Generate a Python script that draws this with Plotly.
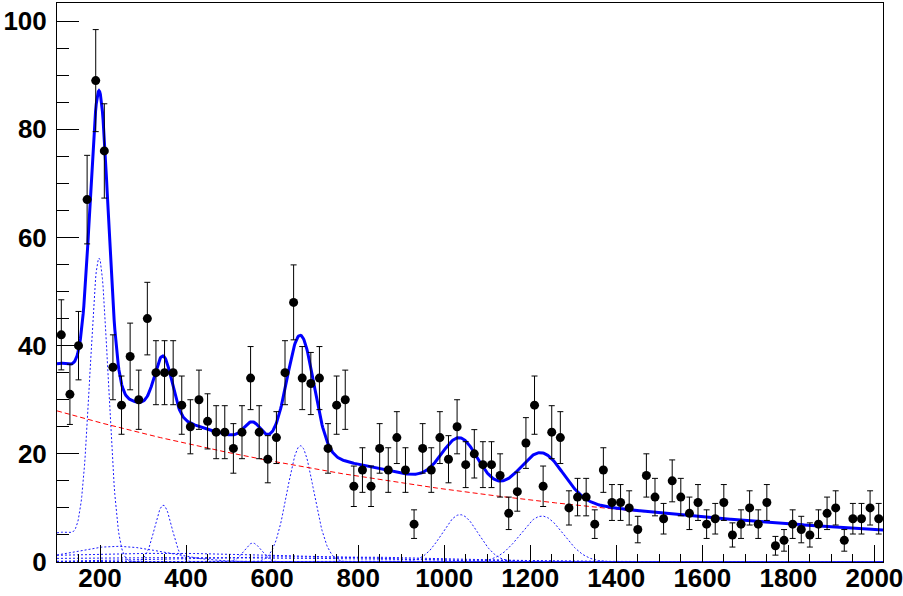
import numpy as np
import plotly.graph_objects as go

# ---------------- data (histogram, 20-unit bins) ----------------
bin_centers = [110, 130, 150, 170, 190, 210, 230, 250, 270, 290,
               310, 330, 350, 370, 390, 410, 430, 450, 470, 490,
               510, 530, 550, 570, 590, 610, 630, 650, 670, 690,
               710, 730, 750, 770, 790, 810, 830, 850, 870, 890,
               910, 930, 950, 970, 990, 1010, 1030, 1050, 1070, 1090,
               1110, 1130, 1150, 1170, 1190, 1210, 1230, 1250, 1270, 1290,
               1310, 1330, 1350, 1370, 1390, 1410, 1430, 1450, 1470, 1490,
               1510, 1530, 1550, 1570, 1590, 1610, 1630, 1650, 1670, 1690,
               1710, 1730, 1750, 1770, 1790, 1810, 1830, 1850, 1870, 1890,
               1910, 1930, 1950, 1970, 1990, 2010]
counts = [42, 31, 40, 67, 89, 76, 36, 29, 38, 30,
          45, 35, 35, 35, 29, 25, 30, 26, 24, 24,
          21, 24, 34, 24, 19, 23, 35, 48, 34, 33,
          34, 21, 29, 30, 14, 17, 14, 21, 17, 23,
          17, 7, 21, 17, 23, 19, 25, 18, 20, 18,
          18, 16, 9, 13, 22, 29, 14, 24, 23, 10,
          12, 12, 7, 17, 11, 11, 10, 6, 16, 12,
          8, 15, 12, 9, 11, 7, 8, 11, 5, 7,
          10, 7, 11, 3, 4, 7, 6, 5, 7, 9,
          10, 4, 8, 8, 10, 8]

# ---------------- fit parameters ----------------
bkg_norm = 30.3
bkg_slope = -0.00081

peak_mean = [198, 347, 555, 666, 1037, 1227]
peak_sigma = [21, 20, 20, 31, 42, 50]
peak_amp = [55.0, 10.5, 3.5, 21.5, 8.75, 8.5]

# low-side shoulder belonging to the first peak's component
tail_mean = 110
tail_sigma = 50
tail_amp = 5.5

broad_mean = [240, 350, 700, 400]
broad_sigma = [110, 350, 300, 500]
broad_amp = [2.9, 1.6, 1.0, 0.8]

x_min, x_max = 100, 2020
y_max = 103.35

# ---------------- evaluate fit curves ----------------
xf = np.linspace(x_min, x_max, 1201)


def gauss(x, a, m, s):
    return a * np.exp(-0.5 * ((x - m) / s) ** 2)


bkg = bkg_norm * np.exp(bkg_slope * xf)
components = []
for i, (a, m, s) in enumerate(zip(peak_amp, peak_mean, peak_sigma)):
    c = gauss(xf, a, m, s)
    if i == 0:
        c = c + gauss(xf, tail_amp, tail_mean, tail_sigma)
    components.append(c)
for a, m, s in zip(broad_amp, broad_mean, broad_sigma):
    components.append(gauss(xf, a, m, s))
total = bkg + np.sum(components, axis=0)

errors = [float(np.sqrt(c)) for c in counts]

fig = go.Figure()

for c in components:
    fig.add_trace(go.Scatter(x=xf, y=c, mode="lines",
                             line=dict(color="#1a1aff", width=1, dash="2px,2px"),
                             hoverinfo="skip", cliponaxis=False))

fig.add_trace(go.Scatter(x=xf, y=bkg, mode="lines",
                         line=dict(color="#ff0000", width=1, dash="5px,3px"),
                         hoverinfo="skip"))

fig.add_trace(go.Scatter(x=xf, y=total, mode="lines",
                         line=dict(color="#0000ff", width=3),
                         hoverinfo="skip"))

fig.add_trace(go.Scatter(x=bin_centers, y=counts, mode="markers",
                         marker=dict(color="black", size=9, symbol="circle"),
                         error_y=dict(type="data", array=errors, visible=True,
                                      color="black", thickness=1, width=3)))

tickfont = dict(family="Liberation Sans, Arial, sans-serif", size=26,
                color="black", weight="bold")

fig.update_layout(
    width=903, height=596,
    margin=dict(l=57, r=20, t=3, b=34, autoexpand=False),
    paper_bgcolor="white", plot_bgcolor="white",
    showlegend=False,
    xaxis=dict(range=[x_min, x_max], tick0=0, dtick=200,
               ticks="inside", ticklen=17, tickwidth=1, tickcolor="black",
               minor=dict(dtick=50, ticks="inside", ticklen=8,
                          tickwidth=1, tickcolor="black"),
               showline=True, linecolor="black", linewidth=1, mirror=True,
               showgrid=False, zeroline=False, tickfont=tickfont,
               automargin=False, ticklabelstandoff=-7,
               ticklabeloverflow="allow"),
    yaxis=dict(range=[0, y_max], tick0=0, dtick=20,
               ticks="inside", ticklen=22, tickwidth=1, tickcolor="black",
               minor=dict(dtick=5, ticks="inside", ticklen=12,
                          tickwidth=1, tickcolor="black"),
               showline=True, linecolor="black", linewidth=1, mirror=True,
               showgrid=False, zeroline=False, tickfont=tickfont,
               automargin=False, ticklabelstandoff=4,
               ticklabeloverflow="allow"),
)

fig.write_html("out.html",
               config={"displayModeBar": False},
               post_script="document.body.style.margin='0px';"
                           "document.body.style.overflow='hidden';")
